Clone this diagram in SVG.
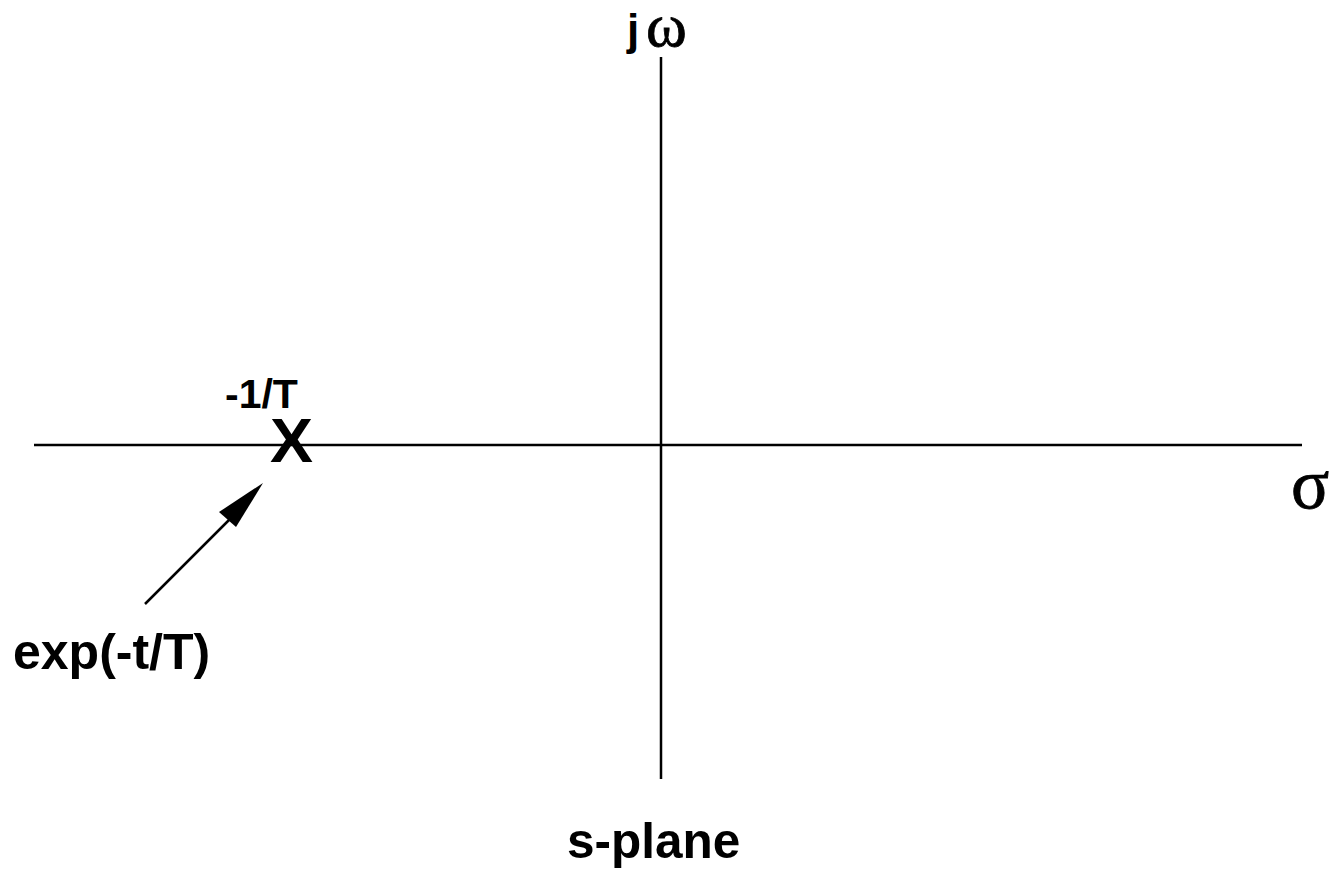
<svg xmlns="http://www.w3.org/2000/svg" width="1338" height="873" viewBox="0 0 1338 873">
<style>
.ax{stroke:#000;stroke-width:2.5;fill:none}
.lb{font-family:"Liberation Sans",Arial,sans-serif;font-weight:bold;fill:#000}
.gr{font-family:"Liberation Serif","Times New Roman",serif;fill:#000;stroke:#000;stroke-width:0.8}
</style>
<rect width="1338" height="873" fill="#fff"/>
<g id="connectors">
<line class="ax" x1="34" y1="445" x2="1302" y2="445"/>
<line class="ax" x1="661" y1="57" x2="661" y2="779"/>
<line class="ax" x1="145" y1="604" x2="240" y2="509"/>
<polygon points="263,483 219,512 236,527" fill="#000"/>
</g>
<g id="pole">
<text class="lb" x="291.5" y="462" font-size="63" text-anchor="middle" textLength="43" lengthAdjust="spacingAndGlyphs">X</text>
<text class="lb" x="225" y="408" font-size="41">-1/T</text>
</g>
<g id="label-exp"><text class="lb" x="13" y="669" font-size="50">exp(-t/T)</text></g>
<g id="label-jw"><text class="lb" x="627" y="45" font-size="44">j</text><text class="gr" x="646" y="46" font-size="62">ω</text></g>
<g id="label-sigma"><text class="gr" x="1291" y="508" font-size="71">σ</text></g>
<g id="label-splane"><text class="lb" x="567" y="858" font-size="49.5">s-plane</text></g>
</svg>
